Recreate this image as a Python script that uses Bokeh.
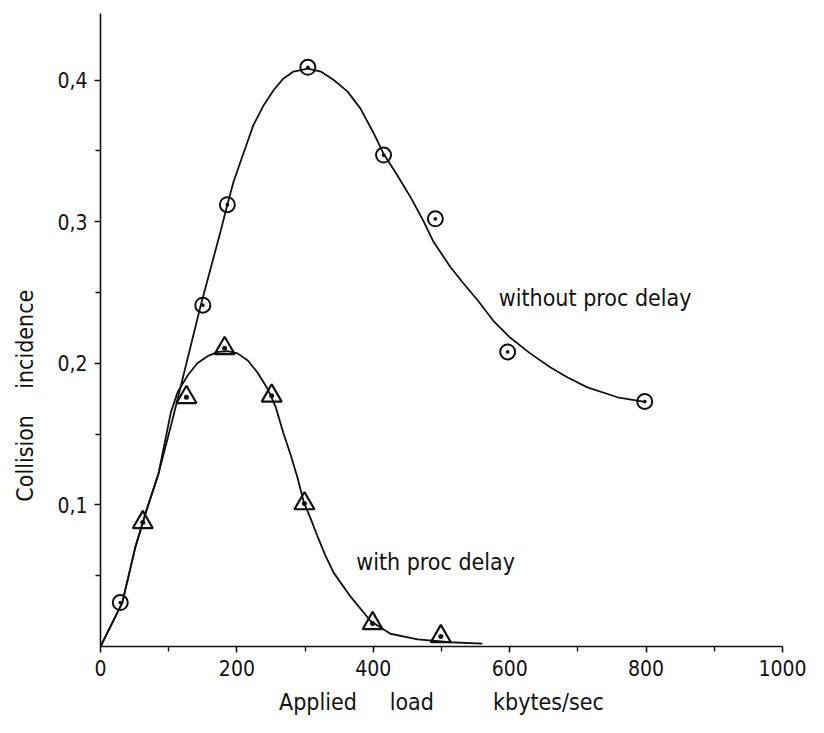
from bokeh.plotting import figure
from bokeh.models import Range1d, FixedTicker
from bokeh.core.properties import value
from bokeh.embed import file_html
from bokeh.resources import INLINE

# ---- data ----
# measured points, "without proc delay" (circles)
load_without = [29, 150, 186, 304, 415, 491, 597, 798]
coll_without = [0.031, 0.241, 0.312, 0.409, 0.347, 0.302, 0.208, 0.173]

# measured points, "with proc delay" (triangles)
load_with = [62, 126, 182, 251, 299, 399, 499]
coll_with = [0.0876, 0.176, 0.2106, 0.177, 0.101, 0.0163, 0.0071]

# hand-drawn fitted curve, "without proc delay"
curve_without_x = [0, 32, 51, 66, 85, 106, 147, 176, 186, 195, 205, 216, 224,
                   239, 254, 268, 283, 304, 323, 342, 362, 381, 400, 415, 435,
                   455, 474, 488, 513, 532, 553, 576, 601, 630, 660, 685, 714,
                   758, 796]
curve_without_y = [0.0, 0.031, 0.070, 0.094, 0.122, 0.161, 0.241, 0.293, 0.312,
                   0.328, 0.342, 0.357, 0.368, 0.382, 0.393, 0.401, 0.406, 0.408,
                   0.406, 0.400, 0.392, 0.380, 0.363, 0.348, 0.333, 0.317, 0.300,
                   0.286, 0.268, 0.2565, 0.2445, 0.230, 0.218, 0.207, 0.197,
                   0.190, 0.183, 0.176, 0.173]

# hand-drawn fitted curve, "with proc delay"
curve_with_x = [0, 32, 51, 66, 85, 103, 113, 128, 142, 157, 172, 186, 201, 216,
                230, 245, 257, 268, 279, 289, 298, 308, 318, 330, 342, 367, 396,
                425, 465, 513, 560]
curve_with_y = [0.0, 0.031, 0.070, 0.094, 0.122, 0.165, 0.1795, 0.1915, 0.200,
                0.205, 0.208, 0.2085, 0.207, 0.202, 0.1936, 0.182, 0.169, 0.151,
                0.135, 0.119, 0.102, 0.0905, 0.078, 0.064, 0.052, 0.035, 0.018,
                0.009, 0.005, 0.003, 0.002]

x_ticks = [0, 200, 400, 600, 800, 1000]
x_tick_labels = ["0", "200", "400", "600", "800", "1000"]
x_minor = [100, 300, 500, 700, 900]
y_ticks = [0.1, 0.2, 0.3, 0.4]
y_tick_labels = ["0,1", "0,2", "0,3", "0,4"]
y_minor = [0.05, 0.15, 0.25, 0.35]

NB = "\u00a0"
x_title = "Applied" + NB * 5 + "load" + NB * 9 + "kbytes/sec"
y_title = "Collision" + NB * 4 + "incidence" + NB * 20
label_without = "without proc delay"
label_with = "with proc delay"

FONT = "DejaVu Sans Condensed"
INK = "#111111"

p = figure(width=808, height=717, output_backend="svg", toolbar_location=None,
           x_range=Range1d(0, 1000), y_range=Range1d(0, 0.447),
           min_border_left=100, min_border_right=26, min_border_top=13,
           min_border_bottom=71)
p.outline_line_color = None
p.grid.visible = False
p.background_fill_color = "white"

# axes
for ax in (p.xaxis[0], p.yaxis[0]):
    ax.axis_line_color = INK
    ax.axis_line_width = 1.6
    ax.major_tick_line_color = INK
    ax.major_tick_line_width = 1.6
    ax.minor_tick_line_color = INK
    ax.minor_tick_line_width = 1.4
    ax.major_tick_in = 0
    ax.major_tick_out = 6
    ax.minor_tick_in = 0
    ax.minor_tick_out = 5
    ax.major_label_text_font = FONT
    ax.major_label_text_font_size = "21px"
    ax.major_label_text_color = INK
    ax.major_label_standoff = 7
    ax.axis_label_text_font = FONT
    ax.axis_label_text_font_size = "23px"
    ax.axis_label_text_font_style = "normal"
    ax.axis_label_text_color = INK

p.xaxis[0].ticker = FixedTicker(ticks=x_ticks, minor_ticks=x_minor)
p.xaxis[0].major_label_overrides = {t: s for t, s in zip(x_ticks, x_tick_labels)}
p.yaxis[0].ticker = FixedTicker(ticks=y_ticks, minor_ticks=y_minor)
p.yaxis[0].major_label_overrides = {t: s for t, s in zip(y_ticks, y_tick_labels)}
p.yaxis[0].major_label_orientation = "horizontal"

p.xaxis[0].axis_label = x_title
p.xaxis[0].axis_label_standoff = 10
p.yaxis[0].axis_label = y_title
p.yaxis[0].axis_label_standoff = 16

# curves
p.line(curve_without_x, curve_without_y, line_color=INK, line_width=1.8)
p.line(curve_with_x, curve_with_y, line_color=INK, line_width=1.8)

# measured points
p.scatter(load_without, coll_without, marker="circle_dot", size=15,
          fill_color=None, line_color=INK, line_width=2)
p.scatter(load_with, coll_with, marker="triangle_dot", size=20,
          fill_color=None, line_color=INK, line_width=2.2)

# curve labels
p.text(x=[584], y=[0.246], text=[label_without], text_font=value(FONT),
       text_font_size="23px", text_color=INK, text_align="left",
       text_baseline="alphabetic")
p.text(x=[375], y=[0.0595], text=[label_with], text_font=value(FONT),
       text_font_size="23px", text_color=INK, text_align="left",
       text_baseline="alphabetic")

open("out.html", "w").write(file_html(p, INLINE))
